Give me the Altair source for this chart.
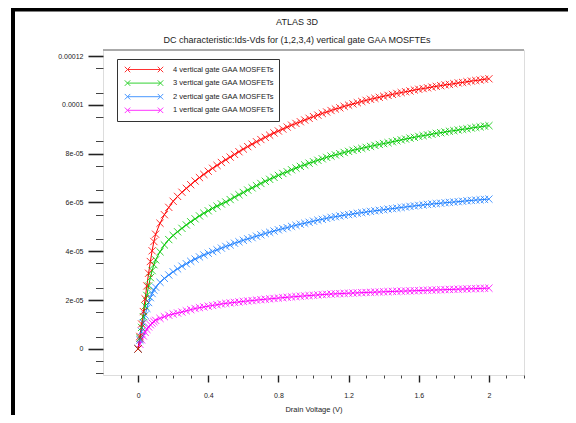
import altair as alt
import pandas as pd

# Drain voltage (V)
vds = [0.0, 0.01, 0.02, 0.03, 0.04, 0.05, 0.06, 0.07, 0.08, 0.09, 0.1,
       0.125, 0.15, 0.175, 0.2, 0.225, 0.25, 0.275, 0.3, 0.325, 0.35, 0.375, 0.4,
       0.425, 0.45, 0.475, 0.5, 0.525, 0.55, 0.575, 0.6, 0.625, 0.65, 0.675, 0.7,
       0.725, 0.75, 0.775, 0.8, 0.825, 0.85, 0.875, 0.9, 0.925, 0.95, 0.975, 1.0,
       1.025, 1.05, 1.075, 1.1, 1.125, 1.15, 1.175, 1.2, 1.225, 1.25, 1.275, 1.3,
       1.325, 1.35, 1.375, 1.4, 1.425, 1.45, 1.475, 1.5, 1.525, 1.55, 1.575, 1.6,
       1.625, 1.65, 1.675, 1.7, 1.725, 1.75, 1.775, 1.8, 1.825, 1.85, 1.875, 1.9,
       1.925, 1.95, 1.975, 2.0]

# Drain current (uA) per device
ids_4 = [0, 5.1, 10.2, 15.3, 20.5, 25.8, 31.0, 35.8, 40.2, 44.0, 47.0,
         51.5, 55.0, 58.0, 60.5, 62.5, 64.2, 65.8, 67.3, 68.8, 70.2, 71.5, 72.8, 74.0, 75.2, 76.4, 77.5,
         78.6, 79.7, 80.8, 81.9, 82.9, 83.9, 84.9, 85.8, 86.7, 87.6, 88.5, 89.3, 90.1, 90.9, 91.7, 92.4, 93.1, 93.8, 94.5, 95.2,
         95.8, 96.5, 97.1, 97.7, 98.3, 98.8, 99.4, 99.9, 100.4, 100.9, 101.4, 101.85, 102.3, 102.7, 103.1, 103.55, 103.9, 104.3, 104.7, 105.05,
         105.4, 105.7, 106.1, 106.4, 106.7, 107.0, 107.3, 107.6, 107.9, 108.2, 108.4, 108.7, 109.0, 109.2, 109.5, 109.75, 110.0, 110.2, 110.5, 110.7]
ids_3 = [0, 4.4, 8.8, 13.2, 17.6, 21.9, 25.8, 29.2, 32.1, 34.5, 36.5,
         39.8, 42.6, 44.8, 46.5, 48.0, 49.4, 50.8, 52.1, 53.3, 54.5, 55.6, 56.6, 57.6, 58.5, 59.4, 60.2,
         61.2, 62.2, 63.2, 64.1, 65.1, 66.0, 66.9, 67.8, 68.7, 69.5, 70.3, 71.1, 71.9, 72.6, 73.4, 74.1, 74.8, 75.4, 76.1, 76.7,
         77.3, 77.9, 78.5, 79.0, 79.5, 80.0, 80.5, 80.95, 81.4, 81.8, 82.2, 82.6, 83.0, 83.4, 83.8, 84.15, 84.5, 84.9, 85.3, 85.65,
         86.0, 86.4, 86.7, 87.1, 87.4, 87.7, 88.0, 88.35, 88.6, 88.9, 89.2, 89.45, 89.7, 90.0, 90.2, 90.5, 90.8, 91.0, 91.3, 91.5]
ids_2 = [0, 3.6, 7.2, 10.6, 13.8, 16.6, 19.0, 21.0, 22.7, 24.1, 25.3,
         27.3, 28.9, 30.3, 31.6, 32.8, 33.9, 34.9, 35.9, 36.8, 37.7, 38.5, 39.2, 39.9, 40.6, 41.3, 42.0,
         42.6, 43.3, 43.9, 44.5, 45.1, 45.6, 46.2, 46.75, 47.3, 47.8, 48.3, 48.8, 49.3, 49.7, 50.2, 50.65, 51.1, 51.5, 51.9, 52.35,
         52.75, 53.1, 53.5, 53.9, 54.2, 54.5, 54.8, 55.05, 55.3, 55.6, 55.85, 56.1, 56.35, 56.6, 56.8, 57.05, 57.3, 57.5, 57.7, 57.95,
         58.15, 58.4, 58.6, 58.8, 59.0, 59.2, 59.4, 59.55, 59.7, 59.9, 60.05, 60.2, 60.35, 60.5, 60.7, 60.83, 61.0, 61.1, 61.25, 61.4]
ids_1 = [0, 1.9, 3.7, 5.3, 6.8, 8.0, 9.0, 9.9, 10.6, 11.2, 11.7,
         12.5, 13.2, 13.8, 14.3, 14.7, 15.1, 15.6, 16.1, 16.55, 16.9, 17.2, 17.5, 17.8, 18.1, 18.4, 18.65,
         18.85, 19.05, 19.25, 19.45, 19.65, 19.8, 20.0, 20.18, 20.35, 20.5, 20.67, 20.84, 21.0, 21.15, 21.3, 21.44, 21.58, 21.72, 21.85, 21.99,
         22.12, 22.25, 22.37, 22.49, 22.57, 22.65, 22.74, 22.82, 22.9, 22.97, 23.05, 23.12, 23.19, 23.26, 23.33, 23.4, 23.47, 23.53, 23.6, 23.66,
         23.72, 23.78, 23.84, 23.9, 23.97, 24.03, 24.1, 24.16, 24.22, 24.29, 24.35, 24.41, 24.47, 24.53, 24.59, 24.65, 24.71, 24.77, 24.83, 24.88]

series_names = ["4 vertical gate GAA MOSFETs", "3 vertical gate GAA MOSFETs",
                "2 vertical gate GAA MOSFETs", "1 vertical gate GAA MOSFETs"]
series_colors = ["#ff0000", "#00c800", "#1e80ff", "#ff00ff"]

title_text = "ATLAS 3D"
subtitle_text = "DC characteristic:Ids-Vds for (1,2,3,4) vertical gate GAA MOSFTEs"
x_title = "Drain Voltage (V)"

x_major = [0, 0.4, 0.8, 1.2, 1.6, 2.0]
x_minor = [-0.1, 0.1, 0.2, 0.3, 0.5, 0.6, 0.7, 0.9, 1.0, 1.1, 1.3, 1.4, 1.5, 1.7, 1.8, 1.9, 2.1, 2.2]
y_major = [0, 0.00002, 0.00004, 0.00006, 0.00008, 0.0001, 0.00012]
y_minor = [-0.00001, -0.000005, 0.000005, 0.000015, 0.000025, 0.000035, 0.000045,
           0.000055, 0.000065, 0.000075, 0.000085, 0.000095, 0.000105, 0.000115]

rows = []
for name, vals in [(series_names[3], ids_1), (series_names[2], ids_2),
                   (series_names[1], ids_3), (series_names[0], ids_4)]:
    for v, i in zip(vds, vals):
        rows.append({"series": name, "vds": v, "ids": i * 1e-6})
df = pd.DataFrame(rows)

FONT = "Liberation Sans"
X_PATH = "M-1,-1L1,1M-1,1L1,-1"
LEG_PATH = ("M-0.55,-0.55L0.55,0.55M-0.55,0.55L0.55,-0.55"
            "M6.05,-0.55L7.15,0.55M6.05,0.55L7.15,-0.55M0,0L6.6,0")

xscale = alt.Scale(domain=[-0.2, 2.2], nice=False, zero=False)
yscale = alt.Scale(domain=[-0.0000107, 0.0001225], nice=False, zero=False)

y_label_expr = ("datum.value == 0 ? '0' : (datum.value > 0.00009 ? format(datum.value, '.5~f') : "
                "replace(format(datum.value, '.0e'), 'e-', 'e-0'))")

base = alt.Chart(df)

minor = base.mark_point(opacity=0).encode(
    x=alt.X("vds:Q", scale=xscale,
            axis=alt.Axis(orient="bottom", values=x_minor, labels=False, tickSize=3,
                          tickColor="#444", domain=False, grid=False, title=None)),
    y=alt.Y("ids:Q", scale=yscale,
            axis=alt.Axis(orient="left", values=y_minor, labels=False, tickSize=7.5,
                          tickColor="#444", domain=False, grid=False, title=None)),
)

color_scale = alt.Scale(domain=series_names, range=series_colors)

lines = base.mark_line(
    strokeWidth=1,
    point=alt.OverlayMarkDef(shape=X_PATH, filled=False, size=52, strokeWidth=1, opacity=0.8),
).encode(
    x=alt.X("vds:Q", scale=xscale,
            axis=alt.Axis(orient="bottom", values=x_major, format="~g", tickSize=7, tickWidth=1.4,
                          tickColor="#222", domain=False, grid=False,
                          labelFontSize=7, labelFont=FONT, labelColor="#222", labelPadding=9,
                          title=x_title, titleFontSize=7.5, titleFont=FONT,
                          titleFontWeight="normal", titleColor="#222", titlePadding=7)),
    y=alt.Y("ids:Q", scale=yscale,
            axis=alt.Axis(orient="left", values=y_major, tickSize=15, tickWidth=1.6,
                          tickColor="#222", domain=False, grid=False,
                          labelFontSize=7, labelFont=FONT, labelColor="#222", labelPadding=5,
                          labelExpr=y_label_expr, title=None)),
    color=alt.Color("series:N", scale=color_scale,
                    legend=alt.Legend(title=None, orient="none", legendX=14, legendY=9,
                                      symbolType=LEG_PATH, symbolSize=100, symbolStrokeWidth=1,
                                      symbolFillColor="transparent",
                                      labelFontSize=7.5, labelFont=FONT, labelColor="#222",
                                      labelOffset=40, padding=5, rowPadding=2.6,
                                      strokeColor="#333", fillColor="white",
                                      labelLimit=250,
                                      labelExpr="datum.label + '         '")),
)

frame_df = pd.DataFrame({"k": [0]})
left_rule = alt.Chart(frame_df).mark_rule(color="black", strokeWidth=4).encode(
    x=alt.value(-90), y=alt.value(-42), y2=alt.value(366))
top_rule = alt.Chart(frame_df).mark_rule(color="black", strokeWidth=3.5).encode(
    x=alt.value(-92), x2=alt.value(466), y=alt.value(-40.2))
top_box = alt.Chart(frame_df).mark_rule(color="#aaa", strokeWidth=2).encode(
    x=alt.value(0), x2=alt.value(421), y=alt.value(0))

title_mark = alt.Chart(frame_df).mark_text(
    text=title_text, font=FONT, fontSize=9, color="#222", align="center", baseline="middle"
).encode(x=alt.value(194), y=alt.value(-28))
subtitle_mark = alt.Chart(frame_df).mark_text(
    text=subtitle_text, font=FONT, fontSize=9, color="#222", align="center", baseline="middle"
).encode(x=alt.value(194), y=alt.value(-10))

chart = alt.layer(minor, lines, top_box, left_rule, top_rule, title_mark, subtitle_mark).resolve_axis(
    x="independent", y="independent"
).properties(
    width=421, height=325,
    autosize=alt.AutoSizeParams(type="none"),
    padding={"left": 95, "top": 42, "right": 44, "bottom": 40},
).configure_view(stroke="#555", strokeWidth=1).configure(background="white")

chart.save("out.html", embed_options={"renderer": "svg", "actions": False})
